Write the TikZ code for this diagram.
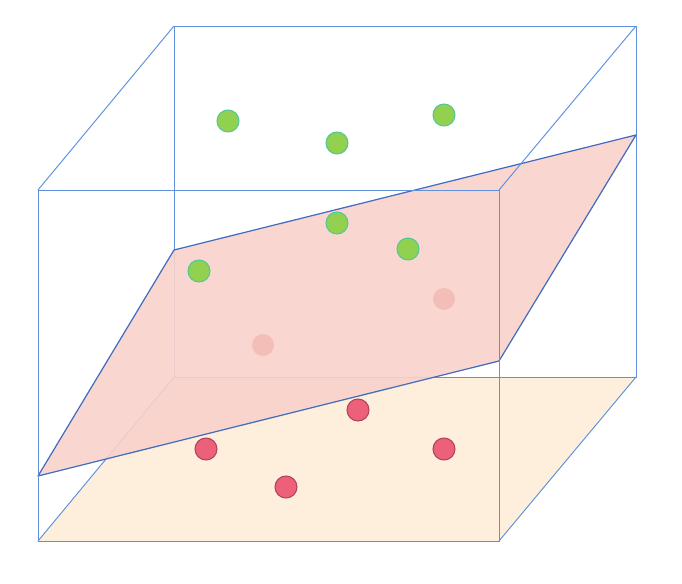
\documentclass[tikz,border=0pt]{standalone}
\usepackage{tikz}
\usetikzlibrary{calc}
\definecolor{AzulCubo}{RGB}{95,145,222}
\definecolor{AzulPlano}{RGB}{68,108,190}
\definecolor{RosaPlano}{RGB}{248,210,203}
\definecolor{CremaBase}{RGB}{254,238,220}
\definecolor{VerdePunto}{RGB}{146,208,80}
\definecolor{VerdeBorde}{RGB}{80,200,150}
\definecolor{RojoPunto}{RGB}{236,96,121}
\definecolor{RojoBorde}{RGB}{176,66,92}
\definecolor{RosaPunto}{RGB}{244,190,184}
\tikzset{
  arista/.style={AzulCubo,line width=0.55pt},
  verde/.style={fill=VerdePunto,draw=VerdeBorde,line width=0.6pt},
  rojo/.style={fill=RojoPunto,draw=RojoBorde,line width=0.6pt},
  tenue/.style={fill=RosaPunto},
}

\begin{document}
\begin{tikzpicture}[x=0.02cm,y=-0.02cm]
  \useasboundingbox (0,0) rectangle (682,584);
  % vertices del cubo: f = cara frontal, t = cara trasera
  \coordinate (fa) at (38,190);
  \coordinate (fb) at (499,190);
  \coordinate (fc) at (499,541);
  \coordinate (fd) at (38,541);
  \coordinate (ta) at (174,26);
  \coordinate (tb) at (636,26);
  \coordinate (tc) at (636,377);
  \coordinate (td) at (174,377);
  % vertices del plano inclinado
  \coordinate (pa) at (38,476);
  \coordinate (pb) at (174,250);
  \coordinate (pc) at (636,135);
  \coordinate (pd) at (499,361);

  % cara inferior
  \fill[CremaBase] (fd) -- (fc) -- (tc) -- (td) -- cycle;
  % aristas traseras
  \draw[arista] (ta) -- (td) -- (tc) -- (tb) -- cycle;
  \draw[arista] (fd) -- (td);

  % puntos bajo el plano
  \foreach \p in {(358,410),(206,449),(444,449),(286,487)}
    \filldraw[rojo] \p circle (11);

  % plano separador
  \fill[RosaPlano,opacity=0.9] (pa) -- (pb) -- (pc) -- (pd) -- cycle;
  \draw[AzulPlano,line width=0.7pt,line join=round] (pa) -- (pb) -- (pc) -- (pd) -- cycle;
  \foreach \p in {(444,299),(263,345)}
    \fill[tenue] \p circle (11);

  % aristas frontales y superiores
  \draw[arista] (fa) -- (fb) -- (fc) -- (fd) -- cycle;
  \draw[arista] (fa) -- (ta);
  \draw[arista] (fb) -- (tb);
  \draw[arista] (fc) -- (tc);

  % puntos sobre el plano
  \foreach \p in {(228,121),(337,143),(444,115),(337,223),(408,249),(199,271)}
    \filldraw[verde] \p circle (11);
\end{tikzpicture}
\end{document}
